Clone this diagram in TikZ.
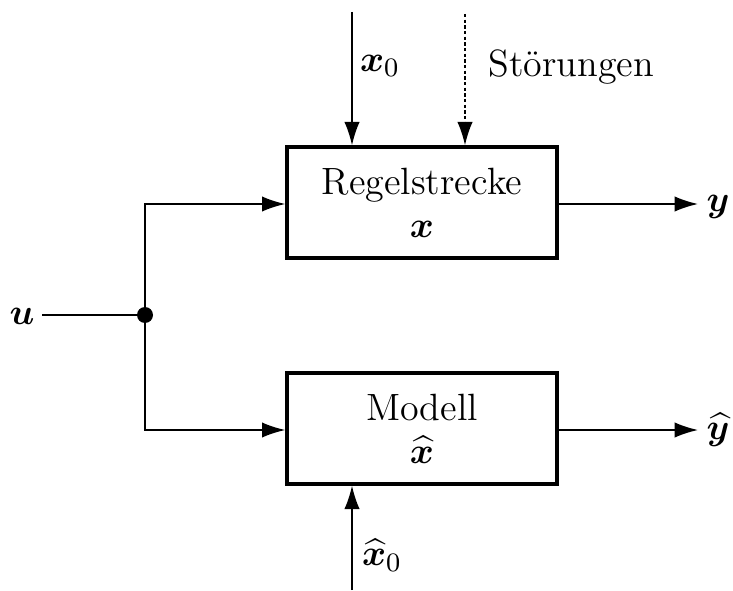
\documentclass[tikz,border=0pt]{standalone}
\usepackage{amsmath,bm}
\usetikzlibrary{arrows.meta}
\tikzset{
  block/.style={draw, line width=1pt, minimum width=81pt, minimum height=33.3pt,
    inner sep=0pt, align=center, font=\fontsize{11.4}{12}\selectfont},
  sig/.style={line width=0.5pt, -{Latex[length=7pt,width=4.6pt]}},
  lbl/.style={font=\fontsize{11.4}{13}\selectfont, inner sep=0pt}
}
\begin{document}
\begin{tikzpicture}[x=0.3pt,y=-0.3pt]
\useasboundingbox (0,0) rectangle (733,590);
% plant and model blocks
\node[block] (plant) at (422,202.5) {Regelstrecke\\[1pt]$\bm{x}$};
\node[block] (model) at (422,428.5) {Modell\\[1pt]$\widehat{\bm{x}}$};
% input branch
\node[lbl] (u) at (22,316) {$\bm{u}$};
\coordinate (split) at (145,315);
\coordinate (uend) at (42,315);
\draw[line width=0.5pt] (uend) -- (split);
\fill (split) circle (8);
\draw[sig] (split) |- (plant.west |- 0,204);
\draw[sig] (split) |- (model.west |- 0,430);
% initial state and disturbance inputs
\coordinate (x0top) at (352,12);
\coordinate (dtop) at (465,14);
\coordinate (xh0bot) at (352,590);
\draw[sig] (x0top) -- (plant.north -| x0top);
\draw[sig, dash pattern=on 1pt off 0.7pt] (dtop) -- (plant.north -| dtop);
\draw[sig] (xh0bot) -- (model.south -| xh0bot);
\node[lbl] (x0) at (380,66) {$\bm{x}_0$};
\node[lbl, anchor=base west] (dist) at (488,77) {Störungen};
\node[lbl] (xh0) at (382,555) {$\widehat{\bm{x}}_0$};
% outputs
\coordinate (yend) at (698,204);
\coordinate (yhend) at (698,430);
\draw[sig] (plant.east |- yend) -- (yend);
\draw[sig] (model.east |- yhend) -- (yhend);
\node[lbl] (y) at (718,207) {$\bm{y}$};
\node[lbl] (yh) at (718,430) {$\widehat{\bm{y}}$};
\end{tikzpicture}
\end{document}
